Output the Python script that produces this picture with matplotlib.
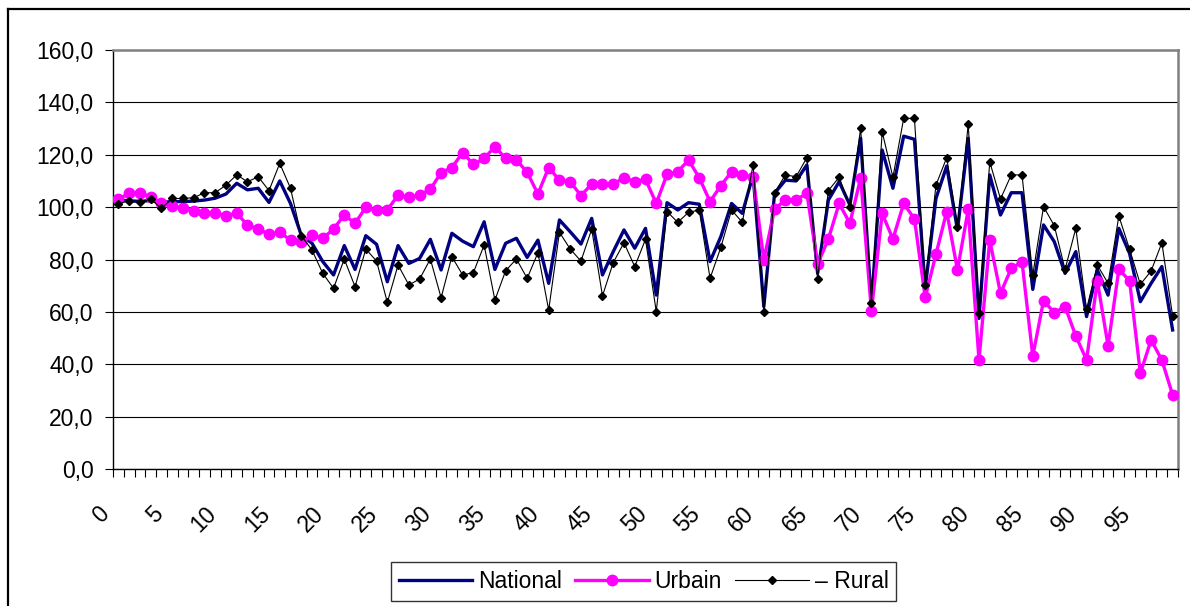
import matplotlib
matplotlib.use("Agg")
import matplotlib.pyplot as plt
import matplotlib.transforms as mtransforms
from matplotlib.lines import Line2D
from matplotlib.ticker import FuncFormatter, FixedLocator

plt.rcParams['font.family'] = ['Liberation Sans', 'DejaVu Sans']

# values, categories 0..98
categories = list(range(99))

national = [102.7, 102.4, 102.2, 102.5, 101.8, 102.1, 102.1, 102.3, 102.7, 103.4,
            105.0, 109.1, 106.6, 107.2, 101.8, 110.0, 101.4, 89.3, 86.2, 79.2,
            74.1, 85.3, 76.2, 89.1, 85.8, 71.5, 85.3, 78.5, 80.4, 87.7,
            76.0, 90.0, 87.0, 84.9, 94.4, 76.2, 86.2, 88.1, 80.8, 87.4,
            70.9, 95.1, 90.6, 85.9, 95.7, 74.1, 83.0, 91.3, 84.3, 91.9,
            66.4, 101.7, 98.9, 101.7, 101.1, 79.2, 88.7, 101.4, 97.6, 112.3,
            62.0, 105.3, 110.3, 110.0, 116.1, 74.7, 102.7, 109.7, 100.8, 126.3,
            62.6, 121.8, 107.2, 127.1, 125.9, 69.0, 103.3, 115.7, 91.3, 126.3,
            57.5, 112.3, 97.0, 105.5, 105.5, 68.6, 93.2, 86.8, 74.7, 83.0,
            58.2, 76.0, 66.4, 91.9, 82.3, 63.9, 70.9, 77.3, 53.1]

urbain = [103.0, 105.3, 105.3, 104.0, 101.4, 100.5, 99.5, 98.6, 97.6, 97.6,
          96.7, 97.6, 93.2, 91.6, 89.7, 90.4, 87.4, 86.5, 89.3, 88.1,
          91.6, 97.0, 93.8, 99.9, 98.9, 98.9, 104.6, 103.7, 104.6, 106.8,
          113.2, 115.1, 120.8, 116.3, 118.6, 123.1, 118.6, 118.0, 113.3, 105.0,
          115.1, 110.3, 109.7, 104.4, 108.8, 108.8, 108.8, 111.2, 109.7, 110.6,
          101.4, 112.5, 113.5, 118.0, 111.2, 102.1, 108.2, 113.5, 112.3, 111.6,
          79.8, 99.3, 102.7, 102.7, 105.3, 78.3, 87.8, 101.4, 93.8, 111.2,
          60.3, 97.6, 87.8, 101.4, 95.5, 65.5, 82.0, 98.3, 76.0, 99.1,
          41.6, 87.4, 67.1, 76.6, 79.2, 43.1, 64.3, 59.7, 62.0, 50.8,
          41.6, 71.9, 47.0, 76.2, 71.9, 36.5, 49.3, 41.6, 28.3]

rural = [101.2, 102.5, 101.8, 103.1, 99.5, 103.3, 103.3, 103.6, 105.5, 105.5,
         108.4, 112.3, 109.7, 111.6, 106.3, 116.7, 107.2, 89.1, 83.6, 74.7,
         69.0, 80.2, 69.6, 84.0, 79.4, 63.6, 77.9, 70.3, 72.5, 80.2,
         65.4, 81.1, 74.1, 75.0, 85.5, 64.5, 75.7, 80.2, 72.8, 82.6,
         60.7, 90.4, 84.0, 79.4, 91.6, 66.1, 78.8, 86.4, 77.3, 87.7,
         60.1, 98.3, 94.2, 98.0, 98.9, 72.8, 84.6, 98.9, 94.2, 116.1,
         60.1, 105.5, 112.3, 111.6, 118.9, 72.5, 106.3, 111.4, 100.2, 130.1,
         63.5, 128.8, 111.4, 133.9, 133.9, 70.3, 108.4, 118.9, 92.5, 131.6,
         59.7, 117.3, 103.1, 112.3, 112.3, 74.1, 100.2, 92.9, 76.2, 91.9,
         61.0, 77.9, 70.9, 96.6, 83.9, 70.5, 75.6, 86.4, 58.4]

x_labels = list(range(0, 96, 5))
y_ticks = list(range(0, 161, 20))

W, H = 1190, 606
fig = plt.figure(figsize=(W / 100, H / 100), dpi=100)
ax = fig.add_axes([113 / W, 1 - 469 / H, (1178 - 113) / W, (469 - 50) / H])

ax.plot(categories, national, color='#000080', lw=2.4, label='National', zorder=3)
ax.plot(categories, urbain, color='#FF00FF', lw=2.4, marker='o', ms=7.5,
        label='Urbain', zorder=4)
ax.plot(categories, rural, color='black', lw=0.8, marker='D', ms=4.2,
        label='– Rural', zorder=5)

ax.set_xlim(-0.5, 98.5)
ax.set_ylim(0, 160)
ax.set_yticks(y_ticks)
ax.yaxis.set_major_formatter(FuncFormatter(lambda v, p: f"{v:.1f}".replace('.', ',')))
ax.grid(axis='y', color='black', lw=0.8)
ax.set_axisbelow(True)

# category boundary ticks, labels every 5 categories
ax.xaxis.set_minor_locator(FixedLocator([k - 0.5 for k in range(100)]))
ax.set_xticks(x_labels)
ax.set_xticklabels([str(v) for v in x_labels], rotation=45, ha='right', va='top')
ax.tick_params(axis='x', which='major', length=0, pad=24, labelsize=16.5)
ax.tick_params(axis='x', which='minor', length=5.5, width=0.8, direction='out')
ax.tick_params(axis='y', length=6, width=0.8, pad=8, labelsize=16.5)
shift = mtransforms.ScaledTranslation(-5 / 100, 0, fig.dpi_scale_trans)
for lab in ax.get_xticklabels():
    lab.set_transform(lab.get_transform() + shift)

for side in ('top', 'right'):
    ax.spines[side].set_color('#808080')
    ax.spines[side].set_linewidth(1.8)
for side in ('left', 'bottom'):
    ax.spines[side].set_color('black')
    ax.spines[side].set_linewidth(1.0)

leg = ax.legend(loc='upper center', bbox_to_anchor=(643.5 / W, 1 - 562 / H),
                bbox_transform=fig.transFigure, ncol=3, frameon=True,
                fancybox=False, fontsize=16.5, handlelength=3.2,
                handletextpad=0.25, columnspacing=0.6, borderpad=0.35,
                borderaxespad=0)
leg.get_frame().set_edgecolor('black')
leg.get_frame().set_linewidth(1.0)

# outer chart frame (runs off the right and bottom edges)
fig.add_artist(Line2D([8 / W, 8 / W], [0, 1 - 9 / H], color='black', lw=1.6))
fig.add_artist(Line2D([8 / W, 1], [1 - 9 / H, 1 - 9 / H], color='black', lw=1.6))

fig.savefig('out.png', dpi=100)
